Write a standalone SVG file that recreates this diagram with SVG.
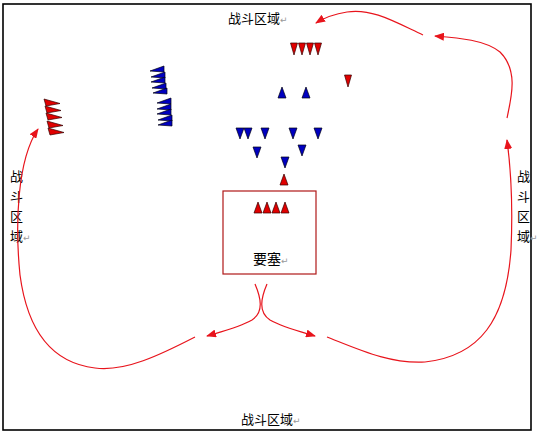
<svg xmlns="http://www.w3.org/2000/svg" xmlns:xlink="http://www.w3.org/1999/xlink" width="537" height="436" viewBox="0 0 537 436">
<style>
.t{font-family:"Noto Sans CJK SC","Noto Sans CJK JP",sans-serif;font-size:13px;fill:#000}
.rt{fill:#999;font-family:"DejaVu Sans",sans-serif;font-size:9px}
.red{fill:#e00000;stroke:#300;stroke-width:0.7}
.blue{fill:#0000c0;stroke:#001;stroke-width:0.7}
.c{fill:none;stroke:#e8141c;stroke-width:1.2}
</style>
<defs>
<marker id="ah" markerUnits="userSpaceOnUse" markerWidth="10" markerHeight="8" refX="9" refY="4" orient="auto">
<path d="M0,0 L10,4 L0,8 z" fill="#e8141c"/>
</marker>
<polygon id="tdR" class="red" points="-3.5,0 3.5,0 0,12"/>
<polygon id="tuR" class="red" points="0,0 4,11 -4,11"/>
<polygon id="tdB" class="blue" points="-4,0 4,0 0,11"/>
<polygon id="tuB" class="blue" points="0,0 4,11 -4,11"/>
<polygon id="flB" class="blue" points="0,5 14,0 14,6"/>
<polygon id="flR" class="red" points="0,0 16,4.5 2,7"/>
</defs>
<rect x="3" y="4" width="528" height="426" fill="#fff" stroke="#000" stroke-width="1.6"/>

<g id="label-top"><text class="t" x="228" y="23">战斗区域<tspan class="rt">↵</tspan></text></g>
<g id="label-bottom"><text class="t" x="241" y="424">战斗区域<tspan class="rt">↵</tspan></text></g>
<g id="label-left">
<text class="t" x="10" y="181">战</text>
<text class="t" x="10" y="201">斗</text>
<text class="t" x="10" y="221">区</text>
<text class="t" x="10" y="241">域<tspan class="rt">↵</tspan></text>
</g>
<g id="label-right">
<text class="t" x="517" y="181">战</text>
<text class="t" x="517" y="201">斗</text>
<text class="t" x="517" y="221">区</text>
<text class="t" x="517" y="241">域<tspan class="rt">↵</tspan></text>
</g>

<g id="fortress">
<rect x="223" y="191" width="93" height="83" fill="none" stroke="#b01818" stroke-width="1.2"/>
<use xlink:href="#tuR" x="258" y="202"/>
<use xlink:href="#tuR" x="267" y="202"/>
<use xlink:href="#tuR" x="276" y="202"/>
<use xlink:href="#tuR" x="285" y="202"/>
<text class="t" x="253" y="264" style="font-size:14px">要塞<tspan class="rt">↵</tspan></text>
</g>

<g id="red-scout"><use xlink:href="#tuR" x="284" y="174"/></g>

<g id="red-top">
<use xlink:href="#tdR" x="294" y="43"/>
<use xlink:href="#tdR" x="302" y="43"/>
<use xlink:href="#tdR" x="310" y="43"/>
<use xlink:href="#tdR" x="318" y="43"/>
</g>
<g id="red-single"><use xlink:href="#tdR" x="348" y="75"/></g>

<g id="blue-up">
<use xlink:href="#tuB" x="282" y="87"/>
<use xlink:href="#tuB" x="306" y="87"/>
</g>

<g id="blue-down">
<use xlink:href="#tdB" x="240" y="128"/>
<use xlink:href="#tdB" x="248" y="128"/>
<use xlink:href="#tdB" x="265" y="128"/>
<use xlink:href="#tdB" x="293" y="128"/>
<use xlink:href="#tdB" x="318" y="128"/>
<use xlink:href="#tdB" x="257" y="147"/>
<use xlink:href="#tdB" x="302" y="145"/>
<use xlink:href="#tdB" x="285" y="157"/>
</g>

<g id="blue-flags">
<use xlink:href="#flB" x="150" y="66"/>
<use xlink:href="#flB" x="151" y="72"/>
<use xlink:href="#flB" x="151" y="77"/>
<use xlink:href="#flB" x="152" y="83"/>
<use xlink:href="#flB" x="153" y="88"/>
<use xlink:href="#flB" x="157" y="98"/>
<use xlink:href="#flB" x="157" y="104"/>
<use xlink:href="#flB" x="157" y="109"/>
<use xlink:href="#flB" x="158" y="115"/>
<use xlink:href="#flB" x="158" y="120"/>
</g>

<g id="red-flags">
<use xlink:href="#flR" x="44" y="99"/>
<use xlink:href="#flR" x="45" y="106"/>
<use xlink:href="#flR" x="46" y="113"/>
<use xlink:href="#flR" x="47" y="121"/>
<use xlink:href="#flR" x="48" y="128"/>
</g>

<g id="connectors">
<path class="c" marker-end="url(#ah)" d="M423,35 C395,22 372,8 347,12 C334,14 324,18 316,23"/>
<path class="c" marker-end="url(#ah)" d="M507,118 C512,95 518,70 500,52 C485,40 460,38 435,36"/>
<path class="c" marker-end="url(#ah)" d="M327,337 C360,350 390,364 425,362 C480,356 506,320 511,250 C513,205 511,170 507,140"/>
<path class="c" marker-end="url(#ah)" d="M195,337 C160,355 125,372 95,368 C45,362 26,320 20,275 C15,225 17,160 38,129"/>
<path class="c" marker-end="url(#ah)" d="M255,284 C261,298 264,312 252,320 C240,327 224,331 207,336"/>
<path class="c" marker-end="url(#ah)" d="M267,284 C261,298 258,312 270,320 C282,327 298,331 315,336"/>
</g>
</svg>
